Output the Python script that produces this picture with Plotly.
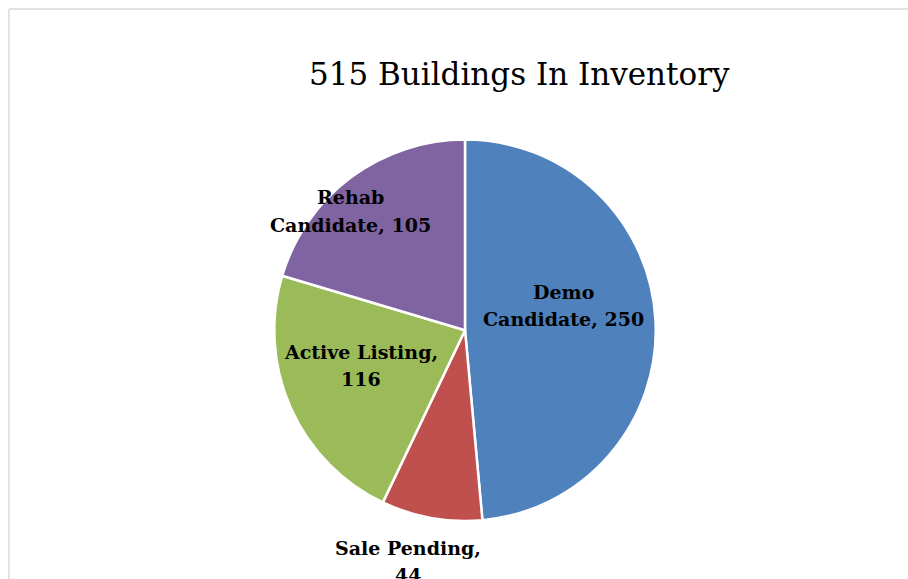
import plotly.graph_objects as go

# Data
categories = ["Demo Candidate", "Sale Pending", "Active Listing", "Rehab Candidate"]
values = [250, 44, 116, 105]
colors = ["#4F81BD", "#C0504D", "#9BBB59", "#8064A2"]
title_text = "515 Buildings In Inventory"

# label lines (line break placement as in reference)
label_lines = [
    ["Demo", "Candidate, 250"],
    ["Sale Pending,", "44"],
    ["Active Listing,", "116"],
    ["Rehab", "Candidate, 105"],
]
# label centre positions in pixels (layout)
label_pos = [(563, 305), (408, 561), (361, 365), (350, 211)]
LINE_GAP = 27

W, H = 908, 579

fig = go.Figure(go.Pie(
    labels=categories,
    values=values,
    sort=False,
    direction="clockwise",
    rotation=0,
    marker=dict(colors=colors, line=dict(color="white", width=2.5)),
    textinfo="none",
    hoverinfo="label+value",
    showlegend=False,
    domain=dict(x=[274 / W, 656 / W], y=[1 - 521 / H, 1 - 139.5 / H]),
))

annotations = [
    dict(text=title_text, x=519 / W, y=1 - 74 / H, xref="paper", yref="paper",
         xanchor="center", yanchor="middle", showarrow=False,
         font=dict(family="DejaVu Serif", size=31, color="#000000"))
]
for lines, (px, py) in zip(label_lines, label_pos):
    n = len(lines)
    for i, line in enumerate(lines):
        ly = py + (i - (n - 1) / 2) * LINE_GAP
        annotations.append(dict(
            text="<b>" + line + "</b>", x=px / W, y=1 - ly / H, xref="paper", yref="paper",
            xanchor="center", yanchor="middle", showarrow=False,
            font=dict(family="DejaVu Serif", size=19, color="#000000")))

border = dict(color="#D9D9D9", width=1.5)
fig.update_layout(
    width=W, height=H,
    margin=dict(l=0, r=0, t=0, b=0),
    paper_bgcolor="white",
    plot_bgcolor="white",
    annotations=annotations,
    shapes=[
        dict(type="line", xref="paper", yref="paper", x0=9 / W, x1=1, y0=1 - 9 / H, y1=1 - 9 / H,
             line=border, layer="below"),
        dict(type="line", xref="paper", yref="paper", x0=9 / W, x1=9 / W, y0=0, y1=1 - 9 / H,
             line=border, layer="below"),
    ],
)

fig.write_html("out.html", config={"displayModeBar": False},
               post_script="document.body.style.margin='0';document.body.style.overflow='hidden';")
